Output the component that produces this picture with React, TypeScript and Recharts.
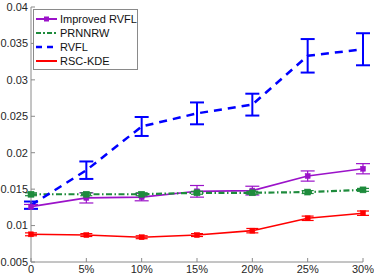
import { ErrorBar, Line, LineChart, XAxis, YAxis } from "recharts";

const categories = ["0", "5%", "10%", "15%", "20%", "25%", "30%"];

const improvedRvfl = [0.0126, 0.0138, 0.0139, 0.0147, 0.0148, 0.0168, 0.0178];
const improvedRvflErr = [0.0003, 0.0007, 0.0005, 0.0008, 0.0006, 0.0007, 0.0007];
const prnnrw = [0.0143, 0.0143, 0.0143, 0.0145, 0.0145, 0.0146, 0.0149];
const prnnrwErr = [0.0002, 0.0002, 0.0002, 0.0002, 0.0002, 0.0002, 0.0002];
const rvfl = [0.0128, 0.0176, 0.0236, 0.0254, 0.0266, 0.0333, 0.0342];
const rvflErr = [0.0005, 0.0012, 0.0013, 0.0015, 0.0015, 0.0023, 0.0022];
const rscKde = [0.0088, 0.0087, 0.0084, 0.0087, 0.0093, 0.011, 0.0117];
const rscKdeErr = [0.0002, 0.0002, 0.0002, 0.0002, 0.0003, 0.0003, 0.0003];

const yTicks = [0.005, 0.01, 0.015, 0.02, 0.025, 0.03, 0.035, 0.04];

const PURPLE = "#9B12C9";
const GREEN = "#1E8B3C";
const BLUE = "#0000FF";
const RED = "#FF0000";
const AXIS = "#8a8a8a";
const FONT = "'Liberation Sans', Arial, sans-serif";

const data = categories.map((c, i) => ({
  x: c,
  improved: improvedRvfl[i],
  improvedErr: improvedRvflErr[i],
  prnnrw: prnnrw[i],
  prnnrwErr: prnnrwErr[i],
  rvfl: rvfl[i],
  rvflErr: rvflErr[i],
  rsc: rscKde[i],
  rscErr: rscKdeErr[i],
}));

const legendItems = [
  { name: "Improved RVFL", color: PURPLE, dash: undefined, width: 2, marker: true },
  { name: "PRNNRW", color: GREEN, dash: "5 2 2 2", width: 2.2, marker: false },
  { name: "RVFL", color: BLUE, dash: "6 5", width: 2.5, marker: false },
  { name: "RSC-KDE", color: RED, dash: undefined, width: 2, marker: false },
];

function square(color: string, size: number) {
  return (props: any) => {
    const { cx, cy, index } = props;
    if (cx == null || cy == null) return <g key={index} />;
    return (
      <rect
        key={index}
        x={cx - size / 2}
        y={cy - size / 2}
        width={size}
        height={size}
        fill={color}
        stroke={color}
        strokeWidth={0.5}
      />
    );
  };
}

function LegendBox() {
  return (
    <svg width={105} height={61} style={{ display: "block" }}>
      <rect x={0.5} y={0.5} width={104} height={60} fill="#fff" stroke="#8a8a8a" strokeWidth={1} />
      {legendItems.map((it) => {
        const i = legendItems.indexOf(it);
        const y = 10 + i * 14;
        return (
          <g key={it.name}>
            <line x1={3} x2={24} y1={y} y2={y} stroke={it.color} strokeWidth={it.width} strokeDasharray={it.dash} />
            {it.marker && <rect x={11} y={y - 2.5} width={5} height={5} fill={it.color} />}
            <text x={27} y={y + 4} fontSize={11} fontFamily={FONT} fill="#111">
              {it.name}
            </text>
          </g>
        );
      })}
    </svg>
  );
}

export default function App() {
  return (
    <div style={{ position: "absolute", left: 0, top: 0, width: 374, height: 280, background: "#fff" }}>
      <LineChart width={374} height={280} data={data} margin={{ top: 7, right: 11, bottom: 0, left: 0 }}>
        <XAxis
          dataKey="x"
          xAxisId="b"
          height={18}
          interval={0}
          stroke={AXIS}
          tickSize={-4}
          tickMargin={7}
          tick={{ fill: "#262626", fontSize: 11, fontFamily: FONT }}
        />
        <XAxis dataKey="x" xAxisId="t" orientation="top" height={0} interval={0} stroke={AXIS} tickSize={-4} tick={false} />
        <YAxis
          yAxisId="l"
          domain={[0.005, 0.04]}
          ticks={yTicks}
          width={31}
          stroke={AXIS}
          tickSize={-4}
          tickMargin={7}
          tick={{ fill: "#262626", fontSize: 11, fontFamily: FONT }}
          allowDataOverflow
        />
        <YAxis yAxisId="r" orientation="right" domain={[0.005, 0.04]} ticks={yTicks} width={0} stroke={AXIS} tickSize={-4} tick={false} />
        <Line
          xAxisId="b"
          yAxisId="l"
          dataKey="rsc"
          name="RSC-KDE"
          stroke={RED}
          strokeWidth={1.6}
          dot={square(RED, 5)}
          isAnimationActive={false}
        >
          <ErrorBar dataKey="rscErr" width={6} stroke={RED} strokeWidth={1.2} isAnimationActive={false} />
        </Line>
        <Line
          xAxisId="b"
          yAxisId="l"
          dataKey="improved"
          name="Improved RVFL"
          stroke={PURPLE}
          strokeWidth={1.6}
          dot={square(PURPLE, 5)}
          isAnimationActive={false}
        >
          <ErrorBar dataKey="improvedErr" width={7} stroke={PURPLE} strokeWidth={1.2} isAnimationActive={false} />
        </Line>
        <Line
          xAxisId="b"
          yAxisId="l"
          dataKey="prnnrw"
          name="PRNNRW"
          stroke={GREEN}
          strokeWidth={2.2}
          strokeDasharray="6 2.5 1.5 2.5"
          dot={square(GREEN, 6)}
          isAnimationActive={false}
        >
          <ErrorBar dataKey="prnnrwErr" width={6} stroke={GREEN} strokeWidth={1.2} isAnimationActive={false} />
        </Line>
        <Line
          xAxisId="b"
          yAxisId="l"
          dataKey="rvfl"
          name="RVFL"
          stroke={BLUE}
          strokeWidth={2.5}
          strokeDasharray="8 6"
          dot={false}
          isAnimationActive={false}
        >
          <ErrorBar dataKey="rvflErr" width={7} stroke={BLUE} strokeWidth={2} isAnimationActive={false} />
        </Line>
      </LineChart>
      <div style={{ position: "absolute", left: 33, top: 9 }}>
        <LegendBox />
      </div>
    </div>
  );
}
